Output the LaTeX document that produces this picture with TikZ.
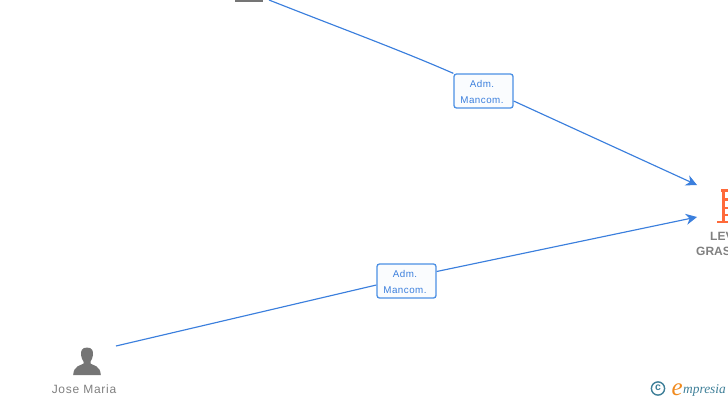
\documentclass[tikz,border=0pt]{standalone}
\usepackage{fontspec}
\setmainfont{Liberation Sans}
\newfontfamily\spaced[LetterSpace=6]{Liberation Sans}
\newfontfamily\rolefont[LetterSpace=5]{Liberation Sans}
\newfontfamily\logofont{Liberation Serif}
\usetikzlibrary{arrows.meta}
\definecolor{linkblue}{HTML}{3B7FDD}
\definecolor{boxblue}{HTML}{4C90E4}
\definecolor{txtgray}{HTML}{808080}
\definecolor{icongray}{HTML}{757575}
\definecolor{orangeicon}{HTML}{FF6A3A}
\definecolor{logoteal}{HTML}{3E7F98}
\definecolor{logoorange}{HTML}{F08A1E}
\tikzset{
  link/.style={draw=linkblue,line width=1.15pt},
  arrowlink/.style={link,-{Stealth[length=11pt,width=11pt,inset=3.5pt]}},
  rolebox/.style={draw=boxblue,line width=1.3pt,rounded corners=2.5pt,fill=white!97!boxblue,
    minimum width=59pt,minimum height=34pt,inner sep=0pt,align=center,text=linkblue},
  roletext/.style={text=linkblue,inner sep=0pt,align=center,
    font=\fontsize{9.8}{15.8}\selectfont\rolefont},
  persontext/.style={text=txtgray,inner sep=0pt,font=\fontsize{12}{14}\selectfont\spaced},
  cotext/.style={text=txtgray,inner sep=0pt,anchor=base west,font=\fontsize{12}{14}\selectfont\bfseries},
}
\begin{document}
\begin{tikzpicture}[x=1pt,y=-1pt]
\useasboundingbox (0,0) rectangle (728,400);
\clip (0,0) rectangle (728,400);
% cropped icon at the top
\fill[icongray] (235,0) rectangle (263,2);
% role boxes and connector ends
\node[rolebox] (a) at (483.5,91) {};
\node[roletext] (atext) at (482,92) {Adm.\\Mancom.};
\node[rolebox] (b) at (406.5,281) {};
\node[roletext] (btext) at (405,282) {Adm.\\Mancom.};
\coordinate (s1) at (269,0);
\coordinate (t1) at (697,185);
\coordinate (s2) at (116,346);
\coordinate (t2) at (697,217);
\draw[link] (s1) .. controls (340,28) and (400,50) .. (a.north west);
\draw[arrowlink] ([yshift=-10pt]a.east) -- (t1);
\draw[link] (s2) -- ([yshift=-4pt]b.west);
\draw[arrowlink] ([yshift=9.5pt]b.east) -- (t2);
% person icon
\fill[icongray] (87,347.5) .. controls (92,347.5) and (93.5,351) .. (93,355)
  .. controls (92.7,358) and (91.5,360) .. (90.5,361.5) -- (90.5,363.5)
  .. controls (93,365.5) and (100.5,365.5) .. (100.8,375) -- (73.2,375)
  .. controls (73.5,365.5) and (81,365.5) .. (83.5,363.5) -- (83.5,361.5)
  .. controls (82.5,360) and (81.3,358) .. (81,355)
  .. controls (80.5,351) and (82,347.5) .. (87,347.5) -- cycle;
\node[persontext] (p) at (84,389) {Jose Maria};
% building icon (cropped by the page edge)
\fill[orangeicon] (717,220.5) rectangle (728,223);
\fill[orangeicon] (722,189) rectangle (725,222);
\fill[orangeicon] (721,189) rectangle (728,191.5);
\fill[orangeicon] (722,198) rectangle (728,200.5);
\fill[orangeicon] (722,206.5) rectangle (728,209);
\fill[orangeicon] (722,214) rectangle (728,216);
\node[cotext] (c1) at (710,240) {LEV};
\node[cotext] (c2) at (696,255) {GRAS};
% logo
\draw[logoteal,line width=1.4pt] (658,388.5) circle (6.6pt);
\node[text=logoteal,inner sep=0pt,font=\fontsize{10.5}{10.5}\selectfont\bfseries] (cc) at (658,388.2) {c};
\node[text=logoorange,inner sep=0pt,anchor=base west,font=\fontsize{25}{25}\selectfont\logofont\itshape] (e) at (671.5,395) {e};
\node[text=logoteal,inner sep=0pt,anchor=base west,font=\fontsize{13.4}{13.4}\selectfont\logofont\itshape] (m) at (683,393.5) {mpresia};
\end{tikzpicture}
\end{document}
